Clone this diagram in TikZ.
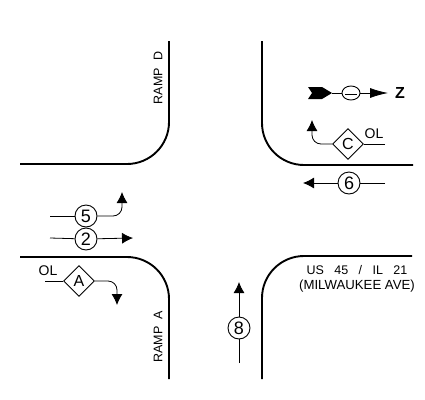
\documentclass[tikz,border=0pt]{standalone}
\usepackage{fontspec}
\setmainfont{Liberation Sans}
\usetikzlibrary{arrows.meta,shapes.geometric}
\tikzset{
	curb/.style={line width=1.9pt,black,rounded corners=42pt},
	lane/.style={line width=0.8pt,black},
	tiplane/.style={lane,-{Latex[length=11pt,width=11pt]},rounded corners=9pt},
	phase/.style={draw,circle,line width=0.9pt,inner sep=0pt,minimum size=22pt,font=\fontsize{18}{18}\selectfont},
	overlap/.style={draw,diamond,aspect=1,line width=0.9pt,inner sep=0pt,minimum size=31pt,font=\fontsize{16}{16}\selectfont},
	olabel/.style={inner sep=0pt,font=\fontsize{14}{14}\selectfont},
	street/.style={inner sep=0pt,font=\fontsize{12.5}{15}\selectfont}
}
\begin{document}
\begin{tikzpicture}[x=1pt,y=-1pt]
		\useasboundingbox (0,0) rectangle (425,399);

		\coordinate (CurbNWa) at (20,164);% Curb ends and corners
		\coordinate (CurbNWb) at (169,164);
		\coordinate (CurbNWc) at (169,41);
		\coordinate (CurbSWa) at (20,257);
		\coordinate (CurbSWb) at (169,257);
		\coordinate (CurbSWc) at (169,379);
		\coordinate (CurbNEa) at (262,41);
		\coordinate (CurbNEb) at (262,165);
		\coordinate (CurbNEc) at (413,165);
		\coordinate (CurbSEa) at (262,379);
		\coordinate (CurbSEb) at (262,256);
		\coordinate (CurbSEc) at (412,256);
		\draw [curb] (CurbNWa) -- (CurbNWb) -- (CurbNWc);
		\draw [curb] (CurbSWa) -- (CurbSWb) -- (CurbSWc);
		\draw [curb] (CurbNEa) -- (CurbNEb) -- (CurbNEc);
		\draw [curb] (CurbSEa) -- (CurbSEb) -- (CurbSEc);

		\node[rotate=90,street] (RampD) at (158,78) {RAMP\ \ D};
		\node[rotate=90,street] (RampA) at (158,337) {RAMP\ \ A};
		\node[street,align=center] (Street) at (357,278.5) {US\ \ \ 45\ \ \ /\ \ \ IL\ \ \ 21\\\fontsize{13.2}{15}\selectfont(MILWAUKEE AVE)};

		\node[phase] (PhaseFive) at (86,216) {5};
		\coordinate (FiveIn) at (50,216);
		\coordinate (FiveBend) at (122,216);
		\coordinate (FiveOut) at (122,192);
		\draw [lane] (FiveIn) -- (PhaseFive);
		\draw [tiplane] (PhaseFive) -- (FiveBend) -- (FiveOut);

		\node[phase] (PhaseTwo) at (86,239) {2};
		\coordinate (TwoIn) at (50,238);
		\coordinate (TwoOut) at (133,238);
		\draw [lane] (TwoIn) -- (PhaseTwo);
		\draw [tiplane] (PhaseTwo) -- (TwoOut);

		\node[overlap] (OverA) at (79,281) {A};
		\node[olabel] (OverALabel) at (48,271) {OL};
		\coordinate (AIn) at (45,281);
		\coordinate (ABend) at (117,281);
		\coordinate (AOut) at (117,305);
		\draw [lane] (AIn) -- (OverA);
		\draw [tiplane] (OverA) -- (ABend) -- (AOut);

		\node[overlap] (OverC) at (348,144) {C};
		\node[olabel] (OverCLabel) at (374,134) {OL};
		\coordinate (CIn) at (385,144);
		\coordinate (CBend) at (312,144);
		\coordinate (COut) at (312,120);
		\draw [lane] (CIn) -- (OverC);
		\draw [tiplane] (OverC) -- (CBend) -- (COut);

		\node[phase] (PhaseSix) at (349,183) {6};
		\coordinate (SixIn) at (385,183);
		\coordinate (SixOut) at (303,183);
		\draw [lane] (SixIn) -- (PhaseSix);
		\draw [tiplane] (PhaseSix) -- (SixOut);

		\node[phase] (PhaseEight) at (239,328) {8};
		\coordinate (EightIn) at (239,363);
		\coordinate (EightOut) at (239,282);
		\draw [lane] (EightIn) -- (PhaseEight);
		\draw [tiplane] (PhaseEight) -- (EightOut);

		% North marker
		\node[draw,ellipse,line width=0.9pt,inner sep=0pt,minimum width=18pt,minimum height=14pt] (NorthDisc) at (351,93) {};
		\coordinate (NorthTail) at (332,93);
		\coordinate (NorthTip) at (388,93);
		\fill (308,87) -- (322,87) -- (332,93) -- (322,99) -- (308,99) -- (312,93) -- cycle;
		\draw [lane] (NorthTail) -- (NorthDisc);
		\draw [lane] (345,94) -- (357,94);
		\draw [lane,-{Latex[length=18pt,width=10pt]}] (NorthDisc) -- (NorthTip);
		\node[inner sep=0pt,font=\bfseries\fontsize{16}{16}\selectfont] (NorthZ) at (400,93) {Z};
	  \end{tikzpicture}
\end{document}
